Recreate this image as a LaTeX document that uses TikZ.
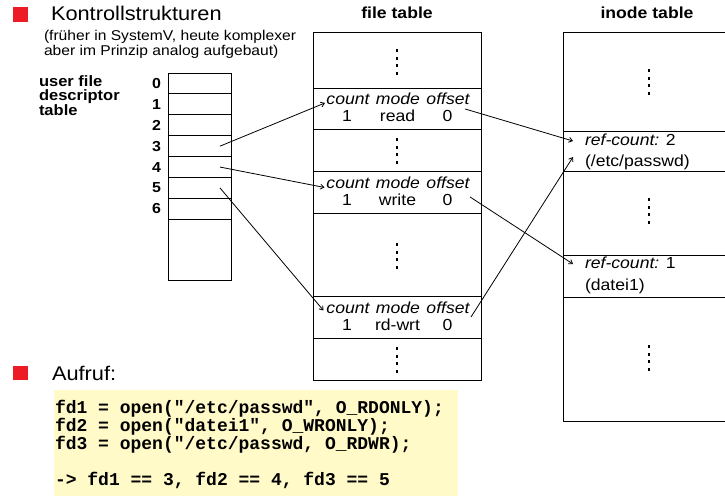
\documentclass[tikz,border=0pt]{standalone}
\usepackage{fontspec}
\setmainfont[FakeStretch=1.1]{Liberation Sans}
\setmonofont{Liberation Mono}
\usetikzlibrary{arrows.meta}
\definecolor{bulletred}{RGB}{237,28,36}
\definecolor{codebg}{RGB}{255,250,200}
\newcommand*\pxsize[1]{\fontsize{#1}{#1}\selectfont}

\begin{document}
\begin{tikzpicture}[x=1pt,y=-1pt,
  every node/.style={inner sep=0pt,outer sep=0pt},
  tbl/.style={draw=black,line width=1pt},
  fdcell/.style={tbl,minimum width=63pt,minimum height=20.9pt},
  ebox/.style={tbl,minimum width=168pt,minimum height=41.5pt},
  ptr/.style={line width=0.8pt,-{Straight Barb[length=3.5pt,width=5pt]}},
  title/.style={font=\pxsize{19.8}},
  note/.style={font=\pxsize{14.2}},
  lbl/.style={font=\bfseries\fontsize{15}{14.5}\selectfont,align=left},
  hdr/.style={font=\bfseries\pxsize{16}},
  fdnum/.style={font=\bfseries\pxsize{14.5}},
  fld/.style={font=\itshape\pxsize{16}},
  val/.style={font=\pxsize{16}},
  code/.style={font=\ttfamily\bfseries\pxsize{18}},
  dotcol/.pic={\foreach \k in {-1.5,-0.5,0.5,1.5}{\fill (-1.3,{\k*7.5-1.3}) rectangle ++(2.6,2.6);}}
]
\useasboundingbox (0,0) rectangle (725,496);

% heading with bullet
\fill[bulletred] (13,7) rectangle (28,22);
\node[title,anchor=base west] (head) at (51,20) {Kontrollstrukturen};
\node[note,anchor=base west] (note1) at (44,40) {(früher in SystemV, heute komplexer};
\node[note,anchor=base west] (note2) at (44,55) {aber im Prinzip analog aufgebaut)};

% user file descriptor table
\node[lbl,anchor=north west] (lbl) at (39,75.5) {user file\\descriptor\\table};
\foreach \i in {0,...,6}{
  \node[fdcell] (fd\i) at (199.5,{83.45+20.9*\i}) {};
  \node[fdnum] (fdn\i) at (156.5,{83.45+20.9*\i}) {\i};
}
\draw[tbl] (fd6.south west) rectangle (231,280);

% file table
\node[hdr,anchor=base] (fthead) at (397,18) {file table};
\draw[tbl] (313,32) rectangle (481,380);
\node[ebox] (e1) at (397,109) {};
\node[ebox] (e2) at (397,192.5) {};
\node[ebox] (e3) at (397,317.5) {};
\foreach \n/\t/\m in {1/88/read,2/171.5/write,3/296.5/rd-wrt}{
  \node[fld,anchor=base] (cnt\n) at (348,\t+16.8) {count};
  \node[fld,anchor=base] (mod\n) at (398,\t+16.8) {mode};
  \node[fld,anchor=base] (off\n) at (448,\t+16.8) {offset};
  \node[val,anchor=base] (num\n) at (347,\t+33.8) {1};
  \node[val,anchor=base] (mv\n) at (397.5,\t+33.8) {\m};
  \node[val,anchor=base] (ov\n) at (447.5,\t+33.8) {0};
}
\foreach \y in {62,151,256,360}{\pic at (397,\y) {dotcol};}

% inode table
\node[hdr,anchor=base] (ithead) at (647,18) {inode table};
\draw[tbl] (726,32) -- (563,32) -- (563,421) -- (726,421);
\draw[tbl] (563,131) -- (726,131) (563,171) -- (726,171);
\draw[tbl] (563,255) -- (726,255) (563,297) -- (726,297);
\node[val,anchor=base west] (ref1) at (585,145) {{\itshape ref-count:} 2};
\node[val,anchor=base west] (pth1) at (585,166) {(/etc/passwd)};
\node[val,anchor=base west] (ref2) at (585,268) {{\itshape ref-count:} 1};
\node[val,anchor=base west] (pth2) at (585,290) {(datei1)};
\foreach \y in {82,211,358}{\pic at (649,\y) {dotcol};}

% descriptor -> file table entries
\draw[ptr] ([xshift=-11pt]fd3.east) -- ([xshift=-1.5pt,yshift=2pt]cnt1.south west);
\draw[ptr] ([xshift=-11pt]fd4.east) -- ([xshift=-2pt,yshift=1pt]cnt2.south west);
\draw[ptr] ([xshift=-11pt]fd5.east) -- ([xshift=-3pt,yshift=3pt]cnt3.south west);

% file table entries -> inodes
\draw[ptr] ([xshift=-4.5pt,yshift=-4pt]off1.south east) -- ([xshift=-12pt,yshift=4pt]ref1.base west);
\draw[ptr] ([xshift=0.5pt,yshift=-8.5pt]off2.south east) -- ([xshift=-12pt,yshift=4pt]ref2.base west);
\draw[ptr] ([xshift=1.5pt,yshift=-3.5pt]off3.south east) -- ([xshift=-12pt,yshift=9pt]pth1.base west);

% call example
\fill[bulletred] (13,366) rectangle (28,380);
\node[title,anchor=base west] (call) at (52,380) {Aufruf:};
\fill[codebg] (54,390) rectangle (458,496);
\node[code,anchor=base west] (c1) at (55,413) {fd1 = open("/etc/passwd", O\_RDONLY);};
\node[code,anchor=base west] (c2) at (55,431) {fd2 = open("datei1", O\_WRONLY);};
\node[code,anchor=base west] (c3) at (55,449) {fd3 = open("/etc/passwd, O\_RDWR);};
\node[code,anchor=base west] (c4) at (55,485) {-> fd1 == 3, fd2 == 4, fd3 == 5};
\end{tikzpicture}
\end{document}
